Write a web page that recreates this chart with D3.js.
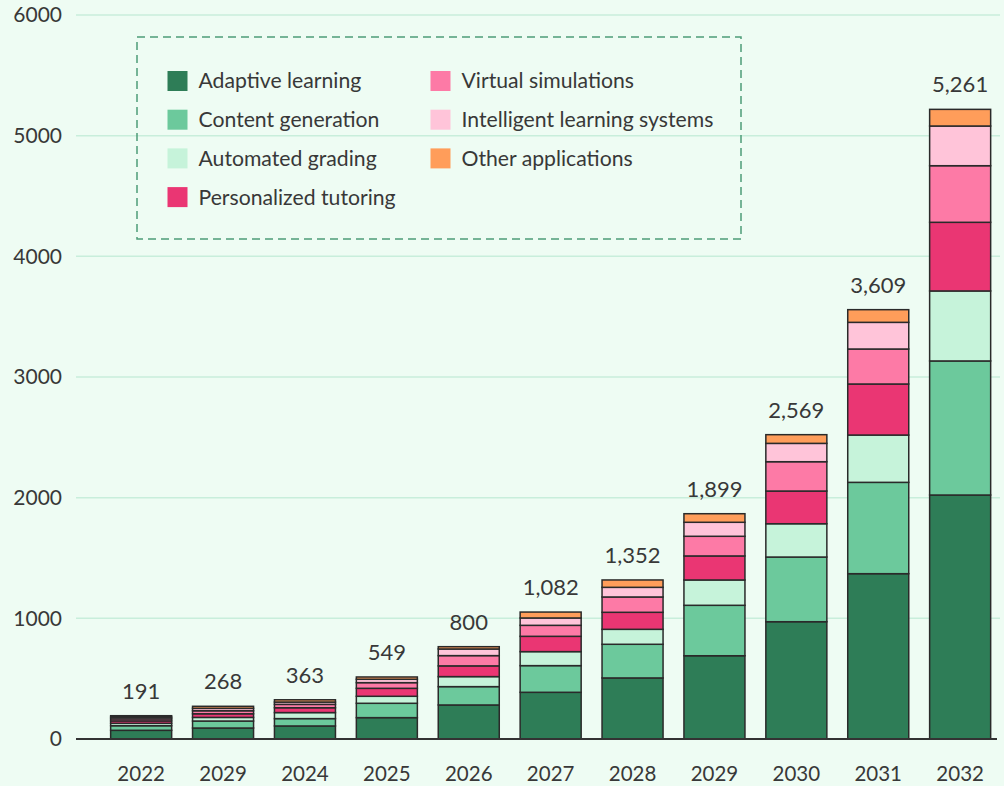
<!DOCTYPE html>
<html>
<head>
<meta charset="utf-8">
<script src="https://cdn.jsdelivr.net/npm/d3@7"></script>
<style>
  html, body { margin: 0; padding: 0; background: #eefcf3; }
  svg { display: block; }
  text { font-family: Lato, "Noto Sans", sans-serif; fill: #383838; }
</style>
</head>
<body>
<div id="chart"></div>
<script>
// categories along the x axis (the second "2029" is in the original)
const years = ["2022", "2029", "2024", "2025", "2026", "2027", "2028", "2029", "2030", "2031", "2032"];

// series values
const adaptive = [72, 91, 108, 177, 282, 387, 506, 690, 972, 1370, 2022];
const contentGen = [38, 58, 61, 119, 152, 221, 279, 418, 536, 757, 1111];
const grading = [20, 30, 50, 58, 83, 116, 124, 210, 276, 392, 580];
const tutoring = [20, 30, 40, 66, 89, 127, 141, 199, 271, 423, 569];
const simulations = [17, 25, 28, 47, 85, 91, 127, 163, 243, 290, 469];
const intelligent = [14, 20, 19, 28, 55, 61, 80, 116, 152, 221, 329];
const otherApps = [12, 17, 19, 19, 19, 49, 61, 71, 72, 105, 138];

// the totals printed above the bars
const totals = [191, 268, 363, 549, 800, 1082, 1352, 1899, 2569, 3609, 5261];

const yTicks = [0, 1000, 2000, 3000, 4000, 5000, 6000];

const seriesNames = [
  "Adaptive learning", "Content generation", "Automated grading",
  "Personalized tutoring", "Virtual simulations",
  "Intelligent learning systems", "Other applications"
];
const seriesValues = [adaptive, contentGen, grading, tutoring, simulations, intelligent, otherApps];
const colors = ["#2e7d57", "#6cc99c", "#c6f3da", "#ea3673", "#fd7aa6", "#ffc4d9", "#ff9d5a"];

const width = 1004, height = 786;

// *build rows for d3.stack
const rows = years.map((yr, i) => {
  const r = { idx: i };
  seriesNames.forEach((s, j) => { r[s] = seriesValues[j][i]; });
  return r;
});

const svg = d3.select("#chart").append("svg")
  .attr("width", width)
  .attr("height", height);

const x = d3.scaleBand()
  .domain(years.map((d, i) => i))
  .range([100, 1001.3])
  .paddingInner(0.255)
  .paddingOuter(0.13);

const y = d3.scaleLinear().domain([0, 6000]).range([739, 15]);

// *gridlines
svg.append("g")
  .selectAll("line")
  .data(yTicks.slice(1))
  .join("line")
  .attr("x1", 76).attr("x2", 1000)
  .attr("y1", d => y(d)).attr("y2", d => y(d))
  .attr("stroke", "#c8eedb")
  .attr("stroke-width", 1.5);

// *y axis labels
svg.append("g")
  .selectAll("text")
  .data(yTicks)
  .join("text")
  .attr("x", 62)
  .attr("y", d => y(d))
  .attr("dy", "0.35em")
  .attr("text-anchor", "end")
  .style("font-size", "21px")
  .text(d => d);

// *stacked bars
const stacked = d3.stack().keys(seriesNames)(rows);

svg.append("g")
  .selectAll("g")
  .data(stacked)
  .join("g")
  .attr("fill", (d, i) => colors[i])
  .selectAll("rect")
  .data(d => d)
  .join("rect")
  .attr("x", d => x(d.data.idx))
  .attr("width", x.bandwidth())
  .attr("y", d => y(d[1]))
  .attr("height", d => y(d[0]) - y(d[1]))
  .attr("stroke", "#2a2a2a")
  .attr("stroke-width", 1.5);

// *x axis line
svg.append("line")
  .attr("x1", 76).attr("x2", 997)
  .attr("y1", y(0)).attr("y2", y(0))
  .attr("stroke", "#333")
  .attr("stroke-width", 2);

// *x labels
svg.append("g")
  .selectAll("text")
  .data(years)
  .join("text")
  .attr("x", (d, i) => x(i) + x.bandwidth() / 2)
  .attr("y", 781)
  .attr("text-anchor", "middle")
  .style("font-size", "20.5px")
  .text(d => d);

// *total labels above bars
const topLayer = stacked[stacked.length - 1];
svg.append("g")
  .selectAll("text")
  .data(topLayer)
  .join("text")
  .attr("x", d => x(d.data.idx) + x.bandwidth() / 2)
  .attr("y", d => y(d[1]) - 17)
  .attr("text-anchor", "middle")
  .style("font-size", "22px")
  .text(d => d3.format(",")(totals[d.data.idx]));

// *legend
const legend = svg.append("g");
legend.append("rect")
  .attr("x", 137).attr("y", 37)
  .attr("width", 604).attr("height", 202)
  .attr("fill", "none")
  .attr("stroke", "#4e9c78")
  .attr("stroke-width", 1.5)
  .attr("stroke-dasharray", "8,5");

const items = legend.selectAll("g.item")
  .data(seriesNames)
  .join("g")
  .attr("class", "item")
  .attr("transform", (d, i) => {
    const col = i < 4 ? 0 : 1;
    const row = i < 4 ? i : i - 4;
    return "translate(" + (col === 0 ? 167.5 : 430.5) + "," + (71 + row * 38.7) + ")";
  });

items.append("rect")
  .attr("width", 20).attr("height", 20)
  .attr("fill", (d, i) => colors[i]);

items.append("text")
  .attr("x", 31)
  .attr("y", 10)
  .attr("dy", "0.35em")
  .style("font-size", "21.2px")
  .text(d => d);
</script>
</body>
</html>
